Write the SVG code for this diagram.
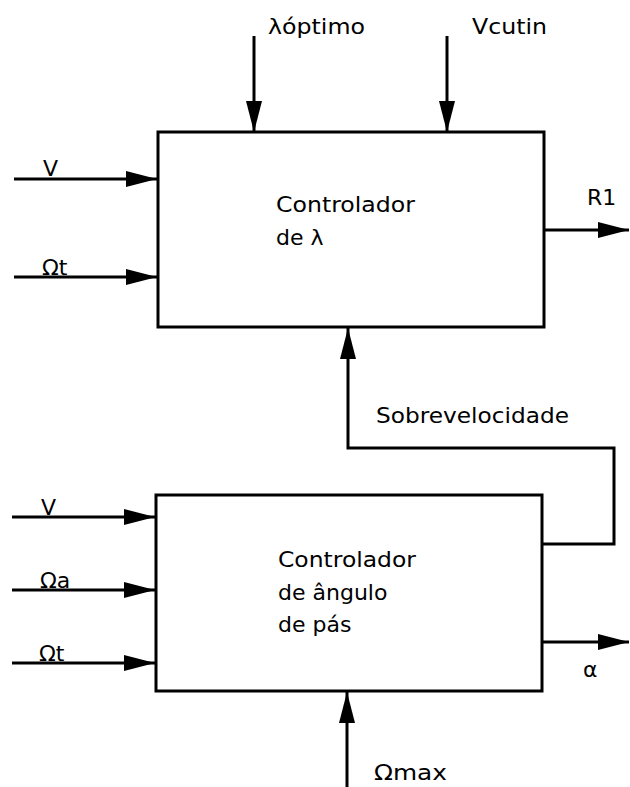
<svg xmlns="http://www.w3.org/2000/svg" width="630" height="787" viewBox="0 0 630 787">
<defs>
<marker id="ah" markerUnits="userSpaceOnUse" markerWidth="32" markerHeight="16" refX="31" refY="8" orient="auto">
<path d="M0,0 L31,8 L0,16 z" fill="#000"/>
</marker>
<style>
.box{fill:#fff;stroke:#000;stroke-width:3}
.ln{fill:none;stroke:#000;stroke-width:3}
text{font-family:"DejaVu Sans","Liberation Sans",sans-serif;font-size:22px;fill:#000}
</style>
</defs>
<rect width="630" height="787" fill="#fff"/>
<g id="connectors">
<line class="ln" x1="254" y1="36" x2="254" y2="132" marker-end="url(#ah)"/>
<line class="ln" x1="447" y1="36" x2="447" y2="132" marker-end="url(#ah)"/>
<line class="ln" x1="14" y1="179" x2="157" y2="179" marker-end="url(#ah)"/>
<line class="ln" x1="14" y1="277" x2="157" y2="277" marker-end="url(#ah)"/>
<line class="ln" x1="544" y1="230" x2="629" y2="230" marker-end="url(#ah)"/>
<polyline class="ln" points="542,544 614,544 614,448 348,448 348,328" marker-end="url(#ah)"/>
<line class="ln" x1="12" y1="517" x2="155" y2="517" marker-end="url(#ah)"/>
<line class="ln" x1="12" y1="590" x2="155" y2="590" marker-end="url(#ah)"/>
<line class="ln" x1="12" y1="663" x2="155" y2="663" marker-end="url(#ah)"/>
<line class="ln" x1="542" y1="642" x2="629" y2="642" marker-end="url(#ah)"/>
<line class="ln" x1="347" y1="787" x2="347" y2="692" marker-end="url(#ah)"/>
</g>
<g id="ctrl-lambda">
<rect class="box" x="158" y="132" width="386" height="195"/>
<text x="276" y="212" textLength="139" lengthAdjust="spacingAndGlyphs">Controlador</text>
<text x="276" y="245">de λ</text>
</g>
<g id="ctrl-pitch">
<rect class="box" x="156" y="495" width="386" height="196"/>
<text x="278" y="567" textLength="138" lengthAdjust="spacingAndGlyphs">Controlador</text>
<text x="278" y="600">de ângulo</text>
<text x="278" y="632">de pás</text>
</g>
<g id="labels">
<text x="268" y="34" textLength="97" lengthAdjust="spacingAndGlyphs">λóptimo</text>
<text x="472" y="34" textLength="75" lengthAdjust="spacingAndGlyphs">Vcutin</text>
<text x="43" y="176">V</text>
<text x="42" y="275">Ωt</text>
<text x="587" y="205">R1</text>
<text x="376" y="423" textLength="193" lengthAdjust="spacingAndGlyphs">Sobrevelocidade</text>
<text x="41" y="515">V</text>
<text x="40" y="588">Ωa</text>
<text x="39" y="661">Ωt</text>
<text x="583" y="677">α</text>
<text x="374" y="780" textLength="73" lengthAdjust="spacingAndGlyphs">Ωmax</text>
</g>
</svg>
